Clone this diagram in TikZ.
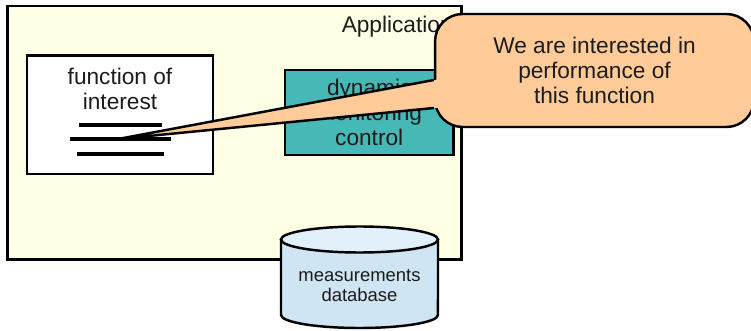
\documentclass[tikz,border=0pt]{standalone}
\usepackage{fontspec}
\setmainfont{Liberation Sans}
\usepackage{tikz}
\usetikzlibrary{positioning}
\usepackage{xcolor}

\definecolor{appyellow}{RGB}{255,255,230}
\definecolor{ctrlteal}{RGB}{70,184,181}
\definecolor{bubbleorange}{RGB}{255,204,153}
\definecolor{dbside}{RGB}{207,229,243}
\definecolor{dbcap}{RGB}{225,240,250}
\definecolor{inkgray}{RGB}{28,28,28}

\begin{document}
\begin{tikzpicture}[
        x=0.02cm, y=-0.02cm,
        every node/.style = {
        font=\fontsize{12.9}{14.2}\selectfont, text=inkgray, inner sep=0pt, align=center
        },
        boxline/.style = {draw=black, line width=1.4pt},
        codeline/.style = {draw=black, line width=1.9pt},
        appframe/.style = {boxline, fill=appyellow, minimum width=9.08cm, minimum height=5.07cm},
        funcbox/.style = {boxline, fill=white, minimum width=3.73cm, minimum height=2.37cm},
        ctrlbox/.style = {boxline, fill=ctrlteal, minimum width=3.37cm, minimum height=1.7cm},
        talkbubble/.style = {boxline, fill=bubbleorange, rounded corners=0.55cm,
        minimum width=6.38cm, minimum height=2.26cm}
        ]
        \useasboundingbox (0,0) rectangle (751,331);
        \clip (0,0) rectangle (751,331);

        \node[appframe] (app) at (234.5,132.75) {};
        \node[anchor=base east] (applabel) at (453,33) {Application};

        \node[funcbox] (func) at (120,114.7) {};
        \node[anchor=north] (functext) at (120,68) {function of\\interest};
        \draw[codeline] (79,125) -- (162,125);
        \draw[codeline] (70,139) -- (171,139);
        \draw[codeline] (77,154) -- (164,154);
        \coordinate (tip) at (118,139);

        \node[ctrlbox] (ctrl) at (369.2,112.5) {dynamic\\monitoring\\control};

        \path[boxline, fill=dbside] (281,239.5) -- (281,315)
            arc[start angle=180, end angle=360, x radius=1.57cm, y radius=0.26cm]
            -- (438,239.5) -- cycle;
        \draw[boxline, fill=dbcap] (359.5,239.5) ellipse[x radius=1.57cm, y radius=0.26cm];
        \node[font=\fontsize{10.5}{11.4}\selectfont] (db) at (359.5,286) {measurements\\database};

        \node[talkbubble] (bubble) at (594.5,70.5) {We are interested in\\performance of\\this function};
        \fill[bubbleorange] (tip) -- ([yshift=-0.19cm]bubble.west)
            -- ([xshift=0.2cm,yshift=-0.19cm]bubble.west)
            -- ([xshift=0.2cm,yshift=-0.75cm]bubble.west)
            -- ([yshift=-0.75cm]bubble.west) -- cycle;
        \draw[boxline] ([yshift=-0.19cm]bubble.west) -- (tip) -- ([yshift=-0.75cm]bubble.west);
    \end{tikzpicture}
\end{document}
